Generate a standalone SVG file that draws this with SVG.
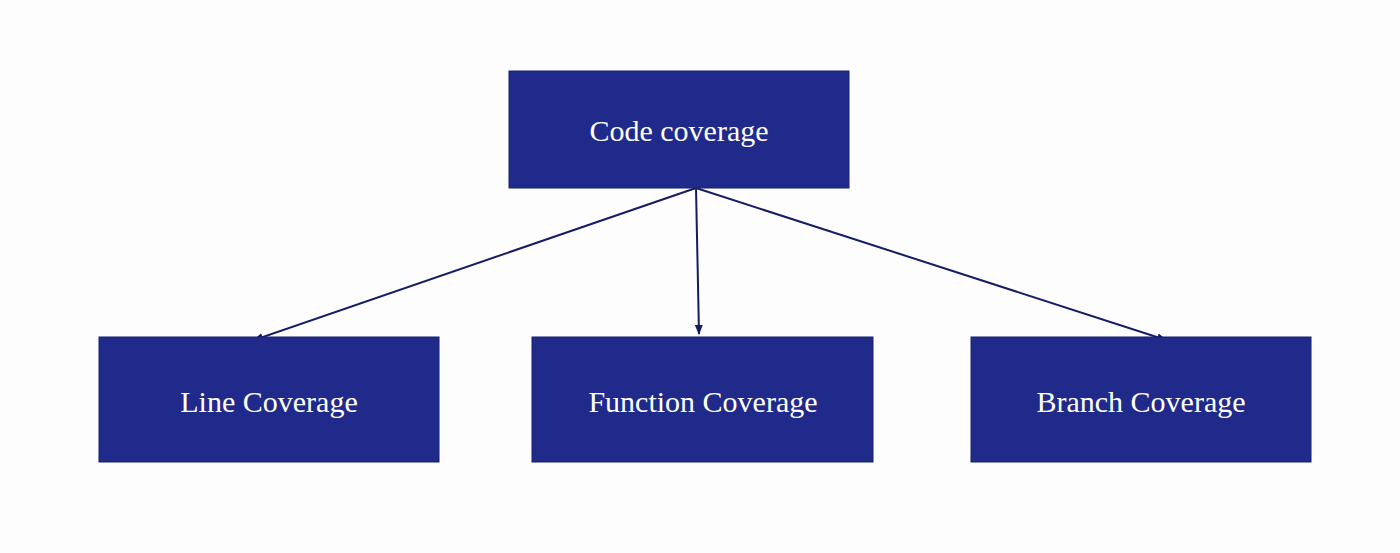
<svg xmlns="http://www.w3.org/2000/svg" width="1400" height="553" viewBox="0 0 1400 553">
<style>
.box{fill:#1f2a8a;stroke:#16206e;stroke-width:1}
.lbl{fill:#fff;font-family:"Liberation Serif",serif;font-size:30px;text-anchor:middle;dominant-baseline:central}
.edge{stroke:#141c66;stroke-width:2;fill:none;marker-end:url(#ah)}
</style>
<defs><marker id="ah" markerWidth="10" markerHeight="10" refX="9" refY="5" orient="auto" markerUnits="userSpaceOnUse"><path d="M0,1 L10,5 L0,9 Z" fill="#141c66"/></marker></defs>
<rect width="1400" height="553" fill="#fdfdfd"/>
<g id="connectors">
<line class="edge" x1="696" y1="188" x2="254" y2="340"/>
<line class="edge" x1="696" y1="188" x2="699" y2="334"/>
<line class="edge" x1="696" y1="188" x2="1166" y2="340"/>
</g>
<g id="code"><rect class="box" x="509" y="71" width="340" height="117"/><text class="lbl" x="679" y="130">Code coverage</text></g>
<g id="line"><rect class="box" x="99" y="337" width="340" height="125"/><text class="lbl" x="269" y="401">Line Coverage</text></g>
<g id="function"><rect class="box" x="532" y="337" width="341" height="125"/><text class="lbl" x="703" y="401">Function Coverage</text></g>
<g id="branch"><rect class="box" x="971" y="337" width="340" height="125"/><text class="lbl" x="1141" y="401">Branch Coverage</text></g>
</svg>
